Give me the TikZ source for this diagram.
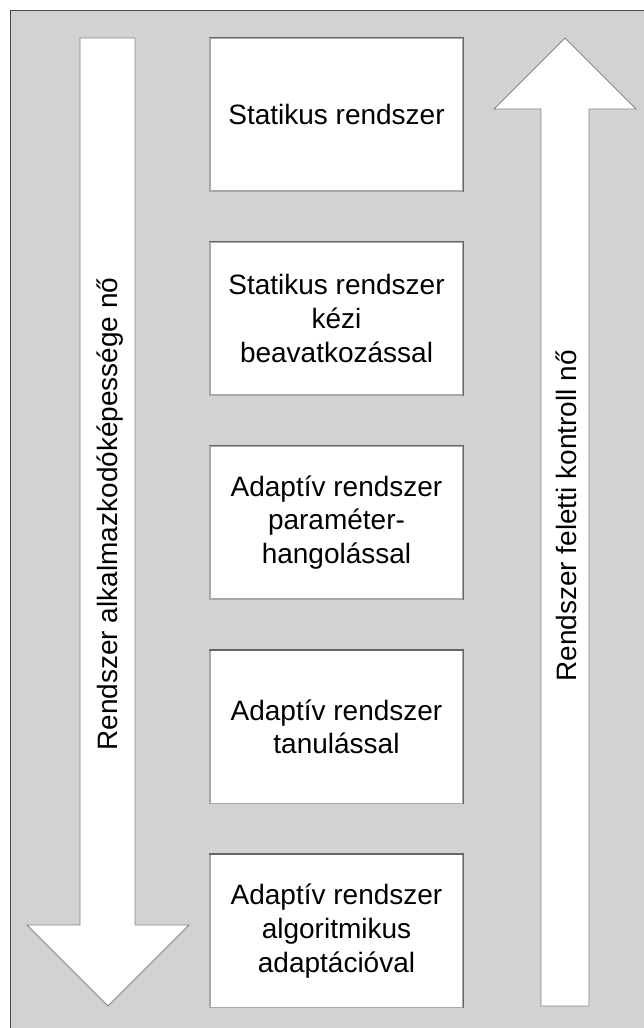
\documentclass[tikz,border=0pt]{standalone}
\usepackage{fontspec}
\setmainfont{Liberation Sans}
\definecolor{panelgray}{HTML}{D2D2D2}
\definecolor{edgedark}{HTML}{666666}
\definecolor{edgelight}{HTML}{A8A8A8}
\definecolor{framegray}{HTML}{4A4A4A}
\tikzset{
  stage/.style={draw=edgelight, line width=1.2pt, fill=white,
    minimum width=253pt, minimum height=153pt, inner sep=0pt,
    align=center, font=\fontsize{28}{33.6}\selectfont},
  bigarrow/.style={draw=edgedark!80, line width=0.9pt, fill=white, line join=miter},
  arrowtext/.style={font=\fontsize{28}{33.6}\selectfont, rotate=90, inner sep=0pt}
}
\begin{document}
\begin{tikzpicture}[x=1pt, y=-1pt]
  \useasboundingbox (0,0) rectangle (643,1028);
  % panel
  \fill[white] (0,0) rectangle (643,1028);
  \draw[framegray, line width=1.2pt, fill=panelgray] (10.5,10.5) rectangle (660,1040);

  % left arrow: adaptability grows downwards
  \draw[bigarrow] (80,38) -- (135,38) -- (135,925) -- (189,925) -- (108,1006)
    -- (27,925) -- (80,925) -- cycle;
  \node[arrowtext] (adapt) at (110,514) {Rendszer alkalmazkodóképessége nő};

  % right arrow: control grows upwards
  \draw[bigarrow] (541,1006) -- (589,1006) -- (589,109) -- (636,109) -- (565,38)
    -- (494,109) -- (541,109) -- cycle;
  \node[arrowtext] (control) at (566,516) {Rendszer feletti kontroll nő};

  % stages
  \node[stage] (b1) at (336.5,114.5) {Statikus rendszer};
  \node[stage] (b2) at (336.5,318.5) {Statikus rendszer\\kézi\\beavatkozással};
  \node[stage] (b3) at (336.5,522.5) {Adaptív rendszer\\paraméter-\\hangolással};
  \node[stage] (b4) at (336.5,727) {Adaptív rendszer\\tanulással};
  \node[stage] (b5) at (336.5,931) {Adaptív rendszer\\algoritmikus\\adaptációval};
  \foreach \n in {b1,b2,b3,b4,b5}
    \draw[edgedark, line width=1.2pt] (\n.north west) -- (\n.north east) -- (\n.south east);
\end{tikzpicture}
\end{document}
